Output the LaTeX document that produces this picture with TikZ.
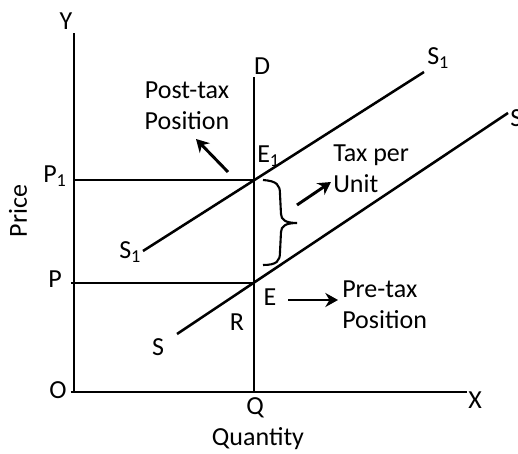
\documentclass[tikz,border=0pt]{standalone}
\usepackage{fontspec}
\setmainfont{Carlito}
\usetikzlibrary{arrows.meta}

\begin{document}
\begin{tikzpicture}[x=0.025cm,y=0.025cm,>={Stealth[length=9pt,width=10pt]},
    lbl/.style={inner sep=0pt,font=\fontsize{18.5}{21.5}\selectfont},
    axis/.style={line width=2pt},
    curve/.style={line width=1.8pt},
    note/.style={->,line width=2.1pt}]
      \useasboundingbox (-74,-61) rectangle (444,392);
      % axes
      \coordinate (O) at (0,0);
      \coordinate (Ytop) at (0,359);
      \coordinate (Xend) at (393,0);
      \draw[axis] (-3,0) -- (Xend);
      \draw[axis] (O) -- (Ytop);
      \node[lbl] (ylab) at (-8,371) {Y};
      \node[lbl] (xlab) at (401,-8) {X};
      \node[lbl] (olab) at (-16,2) {O};
      \node[lbl,rotate=90] (price) at (-56,181) {Price};
      \node[lbl] (qty) at (184,-47) {Quantity};
      % demand
      \coordinate (Q) at (180,0);
      \coordinate (Dtop) at (180,315);
      \draw[axis] (Q) -- (Dtop);
      \node[lbl] (dlab) at (188,326) {D};
      \node[lbl] (qlab) at (181,-16) {Q};
      % equilibria
      \coordinate (E1) at (180,212);
      \coordinate (E) at (180,109);
      \coordinate (P1) at (0,212);
      \coordinate (P) at (-3,109);
      \draw[curve] (P1) -- (E1);
      \draw[curve] (P) -- (E);
      \node[lbl,anchor=base west] (p1lab) at (-31,209) {P\textsubscript{1}};
      \node[lbl] (plab) at (-19,113) {P};
      \node[lbl,anchor=base west] (e1lab) at (183,229) {E\textsubscript{1}};
      \node[lbl] (elab) at (196,95) {E};
      \node[lbl] (rlab) at (163,70) {R};
      % supply curves
      \coordinate (S1a) at (69,141);
      \coordinate (S1b) at (350,320);
      \coordinate (Sa) at (103,58);
      \coordinate (Sb) at (434,279);
      \draw[curve] (S1a) -- (S1b);
      \draw[curve] (Sa) -- (Sb);
      \node[lbl,anchor=base west] (s1top) at (353,327) {S\textsubscript{1}};
      \node[lbl,anchor=base west] (s1low) at (45,133) {S\textsubscript{1}};
      \node[lbl] (slow) at (84,45) {S};
      \node[lbl,anchor=west] (stop) at (436,274) {S};
      % tax brace
      \draw[line width=1.5pt] (189,212) .. controls (203,211) and (206,207) .. (206,198)
        -- (207,178) .. controls (207,172) and (212,169) .. (223,169)
        .. controls (212,169) and (207,166) .. (207,160)
        -- (206,140) .. controls (206,131) and (203,127) .. (189,127);
      % notes
      \node[lbl,align=center,anchor=north] (post) at (113,310) {Post-tax\\Position};
      \node[lbl,align=left,anchor=north west] (pre) at (268,111) {Pre-tax\\Position};
      \node[lbl,align=left,anchor=north west] (tax) at (259,247) {Tax per\\Unit};
      \coordinate (posttail) at (154,220);
      \coordinate (posthead) at (122,253);
      \coordinate (pretail) at (214,92);
      \coordinate (prehead) at (264,92);
      \coordinate (taxtail) at (223,187);
      \coordinate (taxhead) at (257,210);
      \draw[note] (posttail) -- (posthead);
      \draw[note] (pretail) -- (prehead);
      \draw[note] (taxtail) -- (taxhead);
    \end{tikzpicture}
\end{document}
